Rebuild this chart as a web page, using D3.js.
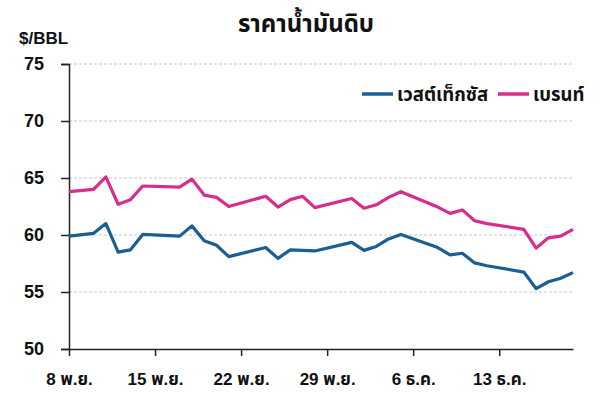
<!DOCTYPE html>
<html>
<head>
<meta charset="utf-8">
<script src="https://cdn.jsdelivr.net/npm/d3@7"></script>
<style>
  body { margin: 0; background: #fff; }
  svg text { font-family: "Liberation Sans", Arial, "Noto Sans Thai", "Noto Sans", sans-serif; fill: #111; }
</style>
</head>
<body>
<svg id="chart" width="600" height="397"></svg>
<script>
// วันที่ (พ.ย. - ธ.ค.)
const dates = [
  "2025-11-08", "2025-11-10", "2025-11-11", "2025-11-12", "2025-11-13", "2025-11-14",
  "2025-11-17", "2025-11-18", "2025-11-19", "2025-11-20", "2025-11-21",
  "2025-11-24", "2025-11-25", "2025-11-26", "2025-11-27", "2025-11-28",
  "2025-12-01", "2025-12-02", "2025-12-03", "2025-12-04", "2025-12-05",
  "2025-12-08", "2025-12-09", "2025-12-10", "2025-12-11", "2025-12-12",
  "2025-12-15", "2025-12-16", "2025-12-17", "2025-12-18", "2025-12-19"
];

// เวสต์เท็กซัส
const wti = [
  59.9, 60.15, 61.0, 58.5, 58.7, 60.05,
  59.9, 60.8, 59.5, 59.1, 58.1,
  58.9, 57.95, 58.7, 58.65, 58.6,
  59.35, 58.65, 59.0, 59.65, 60.05,
  58.9, 58.25, 58.4, 57.55, 57.3,
  56.75, 55.3, 55.9, 56.2, 56.7
];

// เบรนท์
const brent = [
  63.8, 64.0, 65.1, 62.7, 63.1, 64.3,
  64.2, 64.9, 63.5, 63.3, 62.5,
  63.4, 62.45, 63.1, 63.4, 62.4,
  63.2, 62.35, 62.65, 63.3, 63.8,
  62.45, 61.9, 62.2, 61.25, 61.0,
  60.5, 58.85, 59.75, 59.9, 60.5
];

const yTicks = [50, 55, 60, 65, 70, 75];
const xTickDates = ["2025-11-08", "2025-11-15", "2025-11-22", "2025-11-29", "2025-12-06", "2025-12-13"];
const xTickLabels = ["8 พ.ย.", "15 พ.ย.", "22 พ.ย.", "29 พ.ย.", "6 ธ.ค.", "13 ธ.ค."];

const seriesNames = ["เวสต์เท็กซัส", "เบรนท์"];
const seriesColors = ["#1b5e93", "#d62d8f"];

const parse = d3.timeParse("%Y-%m-%d");

const series = [wti, brent].map((vals, i) => ({
  name: seriesNames[i],
  color: seriesColors[i],
  values: vals.map((v, j) => ({ date: parse(dates[j]), value: v }))
}));

// กรอบ
const svg = d3.select("#chart"),
      margin = {top: 64, right: 27, bottom: 48, left: 69},
      width = +svg.attr("width") - margin.left - margin.right,
      height = +svg.attr("height") - margin.top - margin.bottom;

const g = svg.append("g")
  .attr("transform", `translate(${margin.left},${margin.top})`);

const x = d3.scaleTime()
  .domain([parse(dates[0]), parse(dates[dates.length - 1])])
  .range([0, width]);

const y = d3.scaleLinear()
  .domain([50, 75])
  .range([height, 0]);

// เส้นกริด
g.append("g")
  .selectAll("line")
  .data(yTicks.filter(t => t > 50))
  .enter().append("line")
    .attr("x1", 0)
    .attr("x2", width)
    .attr("y1", d => y(d))
    .attr("y2", d => y(d))
    .attr("stroke", "#c8c8c8")
    .attr("stroke-width", 1)
    .attr("stroke-dasharray", "3,2");

// แกน Y
const yAxis = g.append("g")
  .call(d3.axisLeft(y).tickValues(yTicks).tickSize(8).tickPadding(17));
yAxis.select(".domain").attr("stroke", "#222").attr("stroke-width", 1.5);
yAxis.selectAll(".tick line").attr("stroke", "#222").attr("stroke-width", 1.5);
yAxis.selectAll(".tick text")
  .style("font-size", "18px")
  .style("font-weight", "bold")
  .attr("fill", "#111");

// แกน X
const xAxis = g.append("g")
  .attr("transform", `translate(0,${height})`)
  .call(d3.axisBottom(x)
    .tickValues(xTickDates.map(parse))
    .tickFormat((d, i) => xTickLabels[i])
    .tickSize(7)
    .tickPadding(17)
    .tickSizeOuter(0));
xAxis.select(".domain").attr("stroke", "#222").attr("stroke-width", 1.5);
xAxis.selectAll(".tick line").attr("stroke", "#222").attr("stroke-width", 1.5);
xAxis.selectAll(".tick text")
  .style("font-size", "17px")
  .style("font-weight", "bold")
  .attr("fill", "#111");

// เส้นข้อมูล
const line = d3.line()
  .x(d => x(d.date))
  .y(d => y(d.value));

g.selectAll("path.series")
  .data(series)
  .enter().append("path")
    .attr("class", "series")
    .attr("fill", "none")
    .attr("stroke", d => d.color)
    .attr("stroke-width", 3.2)
    .attr("stroke-linejoin", "round")
    .attr("d", d => line(d.values));

// คำอธิบาย
const legend = svg.append("g").attr("transform", "translate(362,94)");
const legendX = [0, 136];
series.forEach((s, i) => {
  const lg = legend.append("g").attr("transform", `translate(${legendX[i]},0)`);
  lg.append("line")
    .attr("x1", 0).attr("x2", 31)
    .attr("y1", 0).attr("y2", 0)
    .attr("stroke", s.color)
    .attr("stroke-width", 3.5);
  lg.append("text")
    .attr("x", 35)
    .attr("y", 7)
    .style("font-size", "18.5px")
    .style("font-weight", "bold")
    .text(s.name);
});

// หน่วย
svg.append("text")
  .attr("x", 19)
  .attr("y", 44)
  .style("font-size", "17px")
  .style("font-weight", "bold")
  .text("$/BBL");

// หัวเรื่อง
svg.append("text")
  .attr("x", 306)
  .attr("y", 32)
  .attr("text-anchor", "middle")
  .style("font-size", "24px")
  .style("font-weight", "bold")
  .text("ราคาน้ำมันดิบ");
</script>
</body>
</html>
